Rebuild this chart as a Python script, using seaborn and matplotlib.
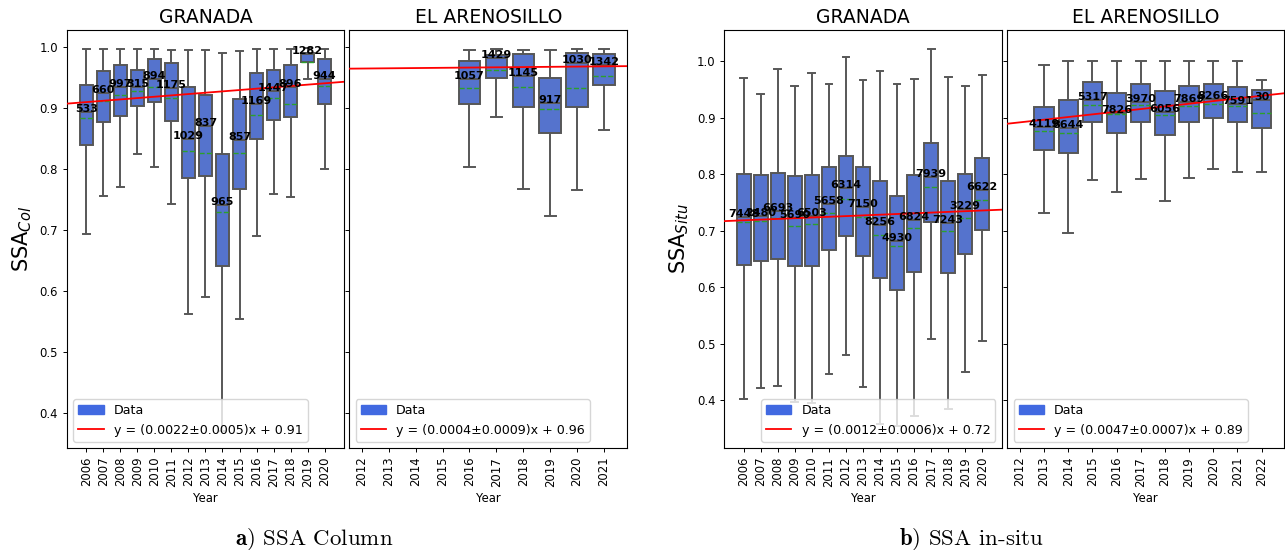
import numpy as np
import pandas as pd
import matplotlib
matplotlib.use("Agg")
import matplotlib.pyplot as plt
import matplotlib.patches as mpatches
from matplotlib.lines import Line2D
import seaborn as sns

# ---------------- SSA column, Granada ----------------
col_gra_ticks = list(range(2006, 2021))
col_gra_years = list(range(2006, 2021))
col_gra_low = [0.693, 0.756, 0.770, 0.825, 0.803, 0.743, 0.563, 0.591, 0.370, 0.555, 0.690, 0.759, 0.755, 0.948, 0.800]
col_gra_q1 = [0.839, 0.877, 0.887, 0.904, 0.910, 0.879, 0.785, 0.788, 0.641, 0.768, 0.849, 0.880, 0.885, 0.975, 0.906]
col_gra_med = [0.893, 0.925, 0.934, 0.934, 0.948, 0.933, 0.850, 0.871, 0.741, 0.847, 0.906, 0.928, 0.935, 0.989, 0.947]
col_gra_q3 = [0.938, 0.960, 0.970, 0.962, 0.980, 0.974, 0.934, 0.922, 0.825, 0.915, 0.958, 0.962, 0.970, 0.991, 0.981]
col_gra_high = [0.997, 0.997, 0.997, 0.997, 0.997, 0.996, 0.996, 0.995, 0.991, 0.993, 0.997, 0.997, 0.997, 0.998, 0.997]
col_gra_mean = [0.884, 0.911, 0.921, 0.928, 0.934, 0.917, 0.829, 0.826, 0.729, 0.827, 0.888, 0.917, 0.907, 0.975, 0.937]
col_gra_n = [533, 660, 997, 315, 894, 1175, 1029, 837, 965, 857, 1169, 1447, 896, 1282, 944]
col_gra_fit = (0.0022, 0.0005, 0.9098)  # slope, slope error, intercept

# ---------------- SSA column, El Arenosillo ----------------
col_are_ticks = list(range(2012, 2022))
col_are_years = list(range(2016, 2022))
col_are_low = [0.803, 0.885, 0.768, 0.723, 0.766, 0.864]
col_are_q1 = [0.907, 0.949, 0.901, 0.859, 0.901, 0.938]
col_are_med = [0.947, 0.982, 0.952, 0.909, 0.974, 0.970]
col_are_q3 = [0.977, 0.987, 0.989, 0.950, 0.991, 0.989]
col_are_high = [0.996, 0.997, 0.996, 0.995, 0.997, 0.997]
col_are_mean = [0.933, 0.962, 0.934, 0.898, 0.933, 0.952]
col_are_n = [1057, 1429, 1145, 917, 1030, 1342]
col_are_fit = (0.0004, 0.0009, 0.9648)

# ---------------- SSA in-situ, Granada ----------------
situ_gra_ticks = list(range(2006, 2021))
situ_gra_years = list(range(2006, 2021))
situ_gra_low = [0.402, 0.422, 0.425, 0.398, 0.395, 0.447, 0.480, 0.423, 0.359, 0.355, 0.373, 0.508, 0.385, 0.450, 0.506]
situ_gra_q1 = [0.640, 0.647, 0.650, 0.638, 0.637, 0.666, 0.691, 0.656, 0.617, 0.595, 0.627, 0.715, 0.626, 0.659, 0.701]
situ_gra_med = [0.724, 0.726, 0.735, 0.722, 0.726, 0.747, 0.775, 0.742, 0.710, 0.682, 0.719, 0.795, 0.714, 0.738, 0.772]
situ_gra_q3 = [0.800, 0.799, 0.802, 0.797, 0.799, 0.812, 0.833, 0.812, 0.788, 0.762, 0.798, 0.855, 0.788, 0.801, 0.828]
situ_gra_high = [0.970, 0.942, 0.986, 0.956, 0.979, 0.959, 1.007, 0.966, 0.982, 0.959, 0.969, 1.022, 0.972, 0.956, 0.975]
situ_gra_mean = [0.715, 0.718, 0.723, 0.708, 0.712, 0.731, 0.756, 0.725, 0.693, 0.673, 0.705, 0.777, 0.699, 0.722, 0.755]
situ_gra_n = [7448, 2480, 6693, 5690, 6503, 5658, 6314, 7150, 8256, 4930, 6824, 7939, 7243, 3229, 6622]
situ_gra_fit = (0.00124, 0.0006, 0.7185)

# ---------------- SSA in-situ, El Arenosillo ----------------
situ_are_ticks = list(range(2012, 2023))
situ_are_years = list(range(2013, 2023))
situ_are_low = [0.732, 0.696, 0.789, 0.768, 0.791, 0.753, 0.794, 0.809, 0.804, 0.804]
situ_are_q1 = [0.843, 0.838, 0.893, 0.872, 0.892, 0.869, 0.892, 0.900, 0.893, 0.882]
situ_are_med = [0.884, 0.881, 0.931, 0.909, 0.928, 0.910, 0.927, 0.933, 0.924, 0.932]
situ_are_q3 = [0.919, 0.931, 0.963, 0.943, 0.959, 0.947, 0.956, 0.960, 0.954, 0.948]
situ_are_high = [0.993, 1.000, 1.000, 1.000, 1.000, 1.000, 1.000, 1.000, 1.000, 0.966]
situ_are_mean = [0.877, 0.872, 0.923, 0.906, 0.922, 0.904, 0.920, 0.925, 0.920, 0.909]
situ_are_n = [4119, 8644, 5317, 7826, 3970, 6056, 7869, 8266, 7591, 30]
situ_are_fit = (0.0047, 0.0007, 0.8917)

BOX_COLOR = "royalblue"
TICK_FS = 8.4


def summary_frame(years, low, q1, med, q3, high):
    rows = []
    for y, *vals in zip(years, low, q1, med, q3, high):
        rows += [(str(y), v) for v in vals]
    return pd.DataFrame(rows, columns=["Year", "SSA"])


def draw_panel(ax, ticks, years, low, q1, med, q3, high, mean, counts, fit,
               title, legend_loc):
    df = summary_frame(years, low, q1, med, q3, high)
    order = [str(t) for t in ticks]
    sns.boxplot(data=df, x="Year", y="SSA", order=order, whis=(0, 100),
                showfliers=False, color=BOX_COLOR, width=0.8, linewidth=1.4,
                ax=ax)
    pos = np.array([ticks.index(y) for y in years], dtype=float)
    # mean of every year as a dashed line across the box
    ax.hlines(mean, pos - 0.4, pos + 0.4, colors="C2", linestyles="--",
              linewidth=1.0, zorder=3)
    # number of observations written at the median
    for p, m, n in zip(pos, med, counts):
        ax.text(p, m, f"{n}", ha="center", va="baseline", fontsize=8,
                fontweight="bold", color="black", zorder=5)
    slope, err, icpt = fit
    ax.axline((0, icpt), slope=slope, color="red", linewidth=1.3, zorder=4)
    handles = [
        mpatches.Patch(color=BOX_COLOR, label="Data"),
        Line2D([], [], color="red", linewidth=1.3,
               label=f"y = ({slope:.4f}\u00b1{err:.4f})x + {icpt:.2f}"),
    ]
    ax.legend(handles=handles, loc=legend_loc, fontsize=9.1)
    ax.set_title(title, fontsize=13.5, pad=5)
    ax.set_xlabel("Year", fontsize=TICK_FS)
    ax.set_ylabel("")
    ax.tick_params(axis="x", labelrotation=90)
    ax.tick_params(labelsize=TICK_FS, length=2.9, width=0.7)


fig = plt.figure(figsize=(12.85, 5.5), dpi=100)

bottom, height = 0.1855, 0.76
ax_a1 = fig.add_axes([0.0521, bottom, 0.2156, height])
ax_a2 = fig.add_axes([0.2718, bottom, 0.2164, height], sharey=ax_a1)
ax_b1 = fig.add_axes([0.5637, bottom, 0.2158, height])
ax_b2 = fig.add_axes([0.7839, bottom, 0.2152, height], sharey=ax_b1)

draw_panel(ax_a1, col_gra_ticks, col_gra_years, col_gra_low, col_gra_q1,
           col_gra_med, col_gra_q3, col_gra_high, col_gra_mean, col_gra_n,
           col_gra_fit, "GRANADA", "lower left")
draw_panel(ax_a2, col_are_ticks, col_are_years, col_are_low, col_are_q1,
           col_are_med, col_are_q3, col_are_high, col_are_mean, col_are_n,
           col_are_fit, "EL ARENOSILLO", "lower left")
draw_panel(ax_b1, situ_gra_ticks, situ_gra_years, situ_gra_low, situ_gra_q1,
           situ_gra_med, situ_gra_q3, situ_gra_high, situ_gra_mean, situ_gra_n,
           situ_gra_fit, "GRANADA", "lower right")
draw_panel(ax_b2, situ_are_ticks, situ_are_years, situ_are_low, situ_are_q1,
           situ_are_med, situ_are_q3, situ_are_high, situ_are_mean, situ_are_n,
           situ_are_fit, "EL ARENOSILLO", "lower left")

for ax in (ax_a2, ax_b2):
    ax.tick_params(axis="y", labelleft=False)

ax_a1.set_ylim(0.343, 1.028)
ax_b1.set_ylim(0.316, 1.055)
ax_a1.set_ylabel("SSA$_{Col}$", fontsize=15)
ax_b1.set_ylabel("SSA$_{Situ}$", fontsize=15)

fig.text(0.2444, 0.02, r"$\mathbf{a)}$ SSA Column", fontfamily="cmr10",
         math_fontfamily="cm", fontsize=16.5, ha="center", va="center")
fig.text(0.756, 0.02, r"$\mathbf{b)}$ SSA in-situ", fontfamily="cmr10",
         math_fontfamily="cm", fontsize=16.5, ha="center", va="center")

fig.savefig("out.png", dpi=100)
